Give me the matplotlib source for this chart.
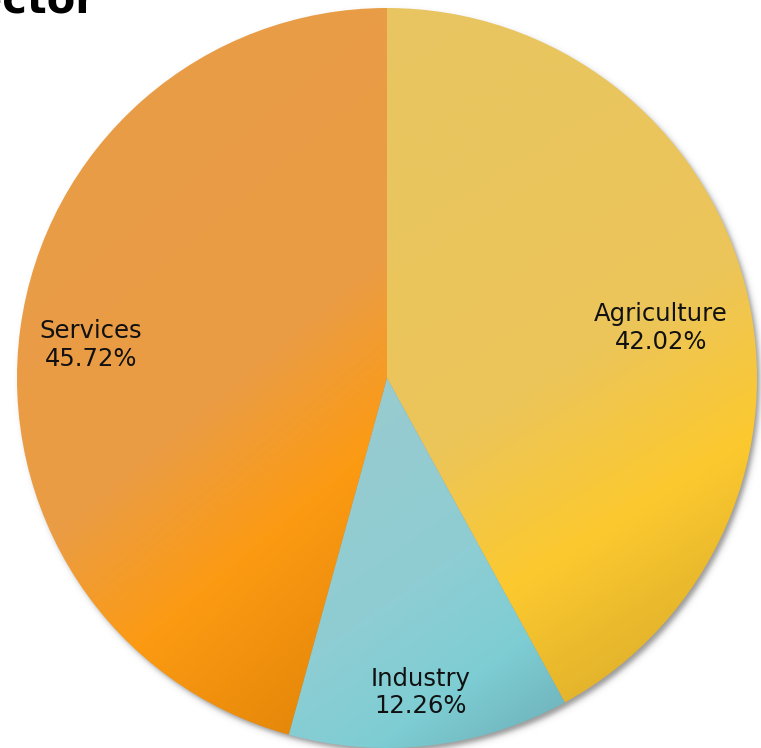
import numpy as np
import matplotlib
matplotlib.use("Agg")
import matplotlib.pyplot as plt
from matplotlib.colors import LinearSegmentedColormap

# employment share by sector (%)
sectors = ["Agriculture", "Industry", "Services"]
shares = [42.02, 12.26, 45.72]

# gradient stops per wedge: light -> saturated -> darker
grad_stops = {
    "Agriculture": [(0.0, "#e8c561"), (0.58, "#ecc55a"), (0.81, "#fcc92f"), (1.0, "#e4b42c")],
    "Industry": [(0.0, "#98cbd0"), (0.5, "#8ecdd3"), (0.8, "#7ecdd4"), (1.0, "#72b8c0")],
    "Services": [(0.0, "#e99c47"), (0.48, "#eb9d44"), (0.72, "#fc9a12"), (1.0, "#e6880a")],
}
# gradient direction per wedge (degrees)
grad_angles = {"Agriculture": -58, "Industry": -55, "Services": -50}

W, H, DPI = 761, 748, 100
cx_px, cy_px, r_px = 387, 378, 370

fig = plt.figure(figsize=(W / DPI, H / DPI), dpi=DPI)
ax = fig.add_axes([0, 0, 1, 1])

# soft drop shadow, shifted down and to the right
xs = np.linspace(-1.1, 1.1, 800)
gx, gy = np.meshgrid(xs, xs)
dist = np.hypot(gx - 0.009, gy + 0.011)
sh = 0.6 * 0.5 * (1 - np.tanh((dist - 1.0) / 0.009))
rgba = np.zeros(gx.shape + (4,))
rgba[..., :3] = 0.33
rgba[..., 3] = sh
ax.imshow(rgba, extent=(-1.1, 1.1, -1.1, 1.1), origin="lower", zorder=0)

wedges, _ = ax.pie(shares, startangle=90, counterclock=False, radius=1.0,
                   wedgeprops=dict(linewidth=0, edgecolor="none"))

# fill each wedge with a linear gradient clipped to its shape
for name, w in zip(sectors, wedges):
    a = np.deg2rad(grad_angles[name])
    proj = gx * np.cos(a) + gy * np.sin(a)
    verts = w.get_path().vertices
    p = verts[:, 0] * np.cos(a) + verts[:, 1] * np.sin(a)
    t = (proj - p.min()) / (p.max() - p.min())
    cmap = LinearSegmentedColormap.from_list(name, grad_stops[name])
    w.set_facecolor("none")
    im = ax.imshow(np.clip(t, 0, 1), cmap=cmap, vmin=0, vmax=1,
                   extent=(-1.1, 1.1, -1.1, 1.1), origin="lower", zorder=2)
    im.set_clip_path(w)

# data labels
label_pos = {"Agriculture": (0.741, 0.135), "Industry": (0.09, -0.85), "Services": (-0.80, 0.09)}
for name, val in zip(sectors, shares):
    x, y = label_pos[name]
    ax.text(x, y, f"{name}\n{val:.2f}%", ha="center", va="center",
            fontsize=17.5, color="#111111", linespacing=1.2, zorder=5)

# pie centre and radius in pixels set the view
ax.set_xlim(-cx_px / r_px, (W - cx_px) / r_px)
ax.set_ylim(-(H - cy_px) / r_px, cy_px / r_px)
ax.set_aspect("equal")
ax.axis("off")

fig.text(96 / W, 1 - 14 / H, "Sector", ha="right", va="baseline",
         fontsize=30, fontweight="bold", color="#000000")

fig.savefig("out.png", dpi=DPI)
